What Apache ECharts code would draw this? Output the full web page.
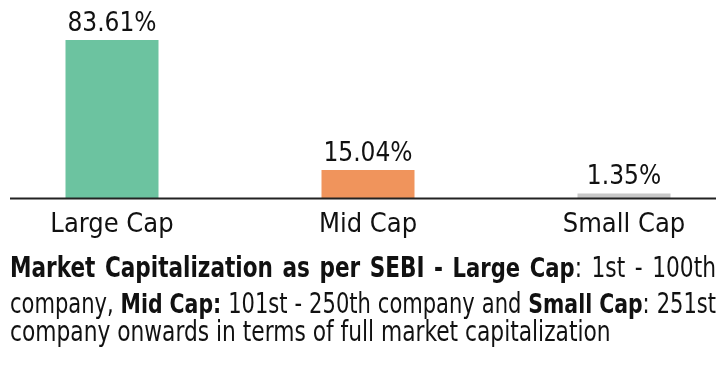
<!DOCTYPE html>
<html><head><meta charset="utf-8">
<script src="https://cdn.jsdelivr.net/npm/echarts@6/dist/echarts.min.js"></script>
<style>html,body{margin:0;padding:0;background:#fff;overflow:hidden;width:722px;height:366px}
#c{position:absolute;left:-16px;top:0;width:768px;height:366px}</style>
</head><body><div id="c"></div>
<script>
const categories = ['Large Cap', 'Mid Cap', 'Small Cap'];
const values = [83.61, 15.04, 1.35];
const colors = ['#6cc3a0', '#f0945c', '#c8c8c8'];
// note lines: words, each word a list of [style, text] segments
const note1 = [[['B','Market']],[['B','Capitalization']],[['B','as']],[['B','per']],[['B','SEBI']],[['B','-']],
  [['M','Large']],[['M','Cap'],['N',':']],[['N','1st']],[['N','-']],[['N','100th']]];
const note2 = [[['N','company,']],[['M','Mid']],[['M','Cap:']],[['N','101st']],[['N','-']],[['N','250th']],
  [['N','company']],[['N','and']],[['M','Small']],[['M','Cap'],['N',':']],[['N','251st']]];
const note3 = [[['N','company']],[['N','onwards']],[['N','in']],[['N','terms']],[['N','of']],[['N','full']],
  [['N','market']],[['N','capitalization']]];

const OFF = 16; // canvas offset relative to page
const FONT = '"DejaVu Sans Condensed", "Liberation Sans Narrow", sans-serif';
const NF = '"Liberation Sans Narrow", "DejaVu Sans Condensed", sans-serif';
const fonts = {B: 'bold 24px ' + NF, M: 'bold 23.5px ' + NF, N: '24.2px ' + NF};
const ctx = document.createElement('canvas').getContext('2d');
function w(style, t){ ctx.font = fonts[style]; return ctx.measureText(t).width; }
const SY = 1.15, MINGAP = 7;
function layoutLine(words, midY, justify){
  const left = 10 + OFF, right = 716 + OFF;
  const n = words.length;
  let ww = words.map(word => word.reduce((s, seg) => s + w(seg[0], seg[1]), 0));
  let total = ww.reduce((a, b) => a + b, 0);
  const SX = justify ? Math.min(1, (right - left - MINGAP * (n - 1)) / total) : 1;
  total *= SX;
  const gap = justify ? (right - left - total) / (n - 1) : w('N', ' ');
  const els = [];
  let x = left;
  words.forEach((word, i) => {
    let sx = x;
    word.forEach(seg => {
      els.push({type: 'text', x: sx, y: midY, scaleY: SY, scaleX: SX,
        style: {text: seg[1], font: fonts[seg[0]], fill: '#111', verticalAlign: 'middle', align: 'left'}});
      sx += w(seg[0], seg[1]) * SX;
    });
    x += ww[i] * SX + gap;
  });
  return els;
}
const chart = echarts.init(document.getElementById('c'));
chart.setOption({
  animation: false,
  grid: {left: 0, right: 0, top: 8.9, bottom: 167.5},
  xAxis: {
    type: 'category', data: categories,
    axisLine: {show: false}, axisTick: {show: false},
    axisLabel: {fontFamily: FONT, fontSize: 27, color: '#111', margin: 13}
  },
  yAxis: {type: 'value', min: 0, max: 100, show: false, splitLine: {show: false}},
  series: [{
    type: 'bar', barWidth: 93, barMinHeight: 5,
    data: values.map((v, i) => ({value: v, itemStyle: {color: colors[i]}})),
    label: {show: true, position: 'top', distance: 3, fontFamily: FONT, fontSize: 26, color: '#111',
      formatter: p => p.value.toFixed(2) + '%'}
  }],
  graphic: [
    {type: 'line', z: 10, shape: {x1: 10 + OFF, y1: 198.5, x2: 716 + OFF, y2: 198.5}, style: {stroke: '#222', lineWidth: 2}}
  ].concat(layoutLine(note1, 269.5, true), layoutLine(note2, 305.5, true), layoutLine(note3, 333.5, false))
});
</script></body></html>
